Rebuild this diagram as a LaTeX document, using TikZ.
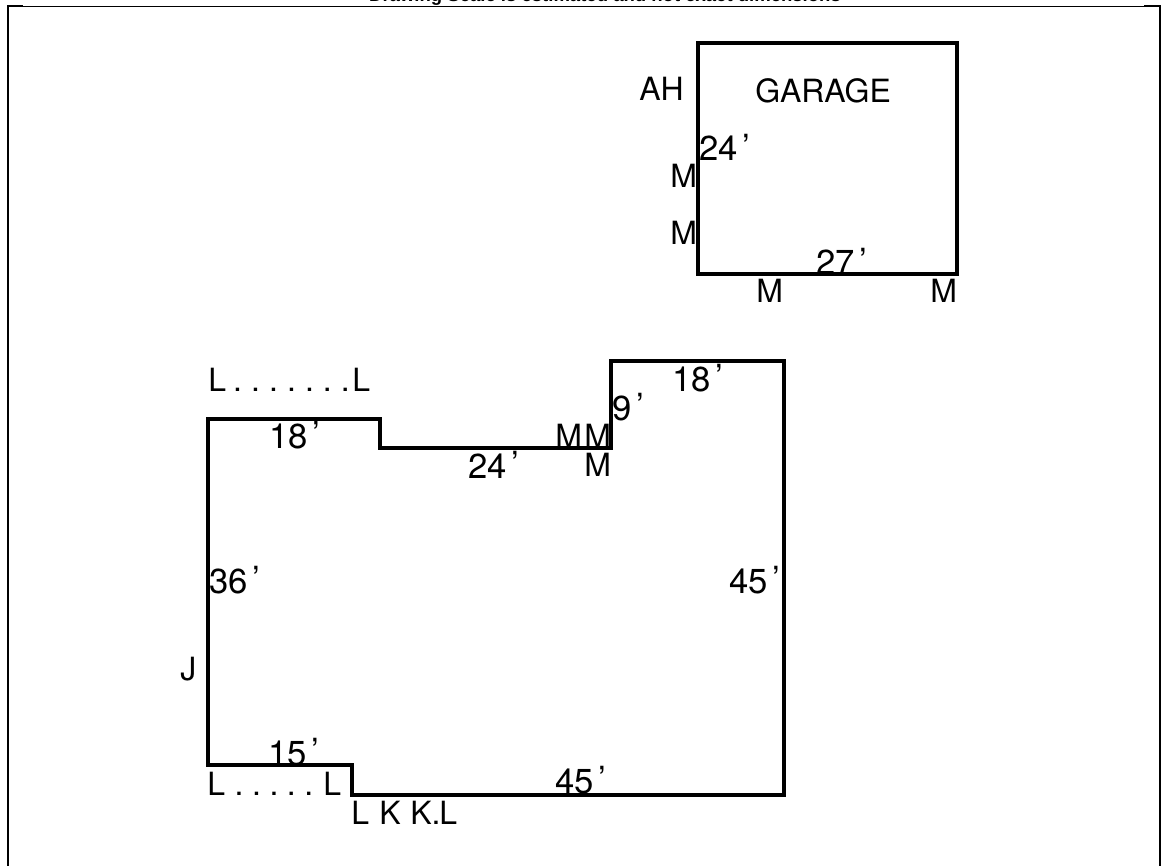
\documentclass[tikz,border=0pt]{standalone}
\usepackage{fontspec}
\setmainfont{Liberation Sans}
\setsansfont{TeX Gyre Heros}
\newcommand{\numtick}{\hspace{3.5pt}\raisebox{1pt}{'}}
\tikzset{
 wall/.style={draw=black,line width=2.3pt,line join=miter},
 frameline/.style={draw=black,line width=1.5pt},
 framethin/.style={draw=black,line width=1pt},
 lab/.style={font=\fontsize{24}{24}\selectfont\sffamily,inner sep=0pt,anchor=base west},
 dimlab/.style={font=\fontsize{26}{26}\selectfont\sffamily,inner sep=0pt,anchor=base west},
 dotlab/.style={font=\fontsize{24}{24}\selectfont\sffamily,inner sep=0pt,anchor=base},
}
\begin{document}
\begin{tikzpicture}[x=0.75pt,y=-0.75pt]
\useasboundingbox (0,0) rectangle (1164,866);
\fill[white] (0,0) rectangle (1164,866);
\coordinate (fa) at (8,6.5);\coordinate (fb) at (1160,6.5);\coordinate (fc) at (1160,866);\coordinate (fd) at (8,866);
\coordinate (ta) at (23,6.5);\coordinate (tb) at (1144,6.5);
\draw[frameline] (fd)--(fa)--(ta);
\draw[framethin] (ta)--(tb);
\draw[frameline] (tb)--(fb)--(fc);
\node[font=\fontsize{13.9}{14}\selectfont\bfseries,inner sep=0pt,anchor=base] (title) at (605,2) {Drawing Scale is estimated and not exact dimensions};
\draw[wall] (698,43)--(957,43)--(957,274)--(698,274)--cycle;
\draw[wall] (208,419)--(380,419)--(380,448)--(611,448)--(611,361)--(784,361)--(784,795)--(352,795)--(352,765)--(208,765)--cycle;
\foreach \n/\x/\y/\t in {a/639/101/AH,b/755/103/GARAGE,d/670/188/M,e/670/245/M,g/756/303/M,h/930/303/M,
 i/208/392/L,j/352/392/L,m/555/447/M,n/584/447/M,o/584/476/M,
 t/180/680/J,v/207/795/L,w/323/795/L,y/351/824/L,z/379/824/K,aa/410/824/K,ab/439/824/L}
 \node[lab] (\n) at (\x,\y) {\t};
\foreach \n/\x/\y/\t in {c/699/161/24,f/816/275/27,k/269/448/18,l/468/478/24,p/612/420/9,q/672/391/18,
 r/209/593/36,s/729/593/45,u/268/765/15,x/555/793/45}
 \node[dimlab] (\n) at (\x,\y) {\t\numtick};
\node[dotlab] (dots1) at (291.5,392) {.\hspace{6.8pt}.\hspace{6.8pt}.\hspace{6.8pt}.\hspace{6.8pt}.\hspace{6.8pt}.\hspace{6.8pt}.};
\node[dotlab] (dots2) at (274,795) {.\hspace{6.4pt}.\hspace{6.4pt}.\hspace{6.4pt}.\hspace{6.4pt}.};
\node[dotlab] (dots3) at (436,824) {.};
\end{tikzpicture}
\end{document}
